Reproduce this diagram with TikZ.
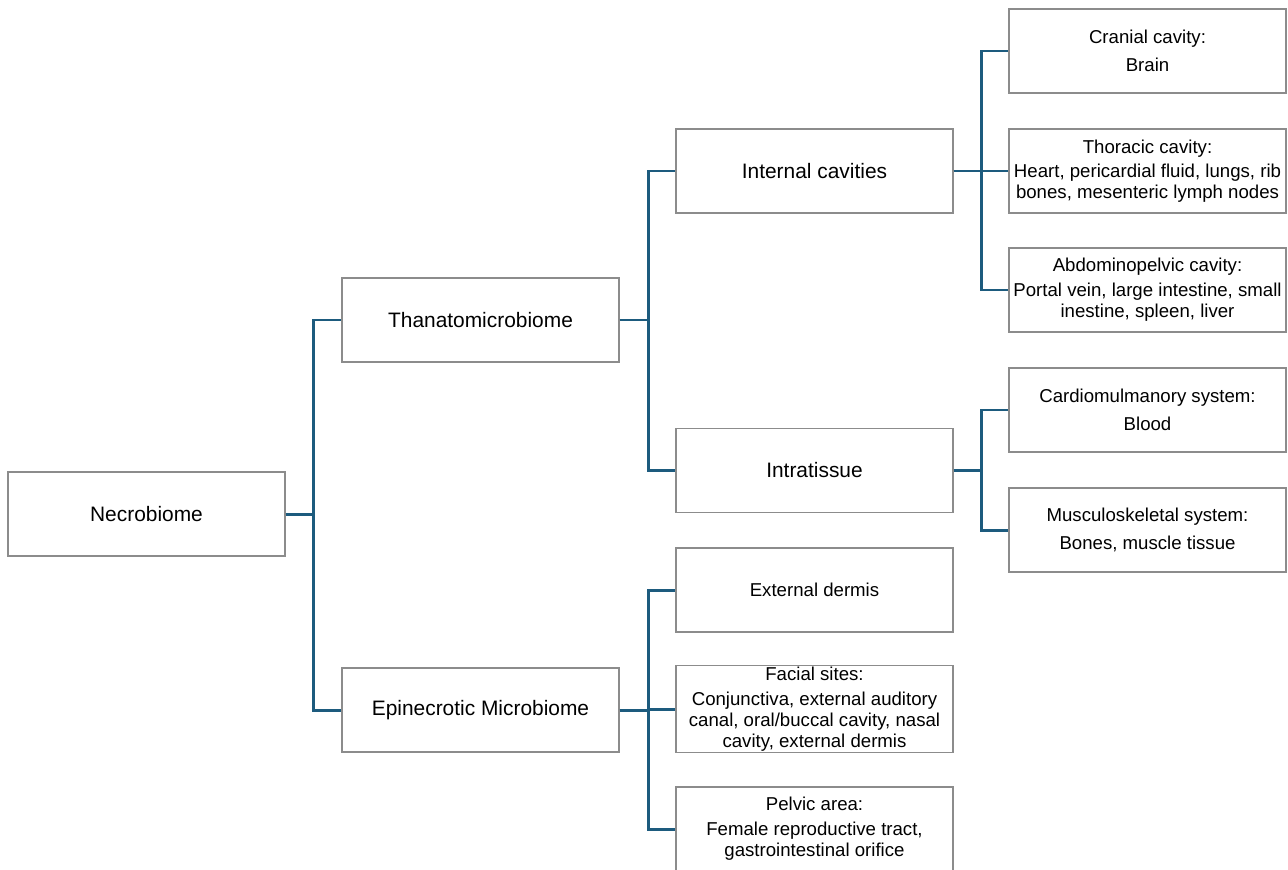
\documentclass[tikz,border=0pt]{standalone}
\usepackage{fontspec}
\setmainfont{Liberation Sans}
\usepackage{xcolor}
\usetikzlibrary{positioning}
\definecolor{flink}{HTML}{1D5B7E}
\definecolor{fframe}{HTML}{8C8C8C}

\begin{document}
\begin{tikzpicture}[x=1cm, y=1cm,
  catbox/.style={draw=fframe, line width=0.7pt, fill=white,
    minimum width=5.54cm, minimum height=1.68cm, inner sep=1pt,
    align=center, font=\fontsize{11.9}{14}\selectfont},
  sitebox/.style={catbox, font=\fontsize{10.6}{12}\selectfont},
  link/.style={draw=flink, line width=1.7pt}]
\useasboundingbox (0,0) rectangle (25.76,-17.38);
\clip (0,0) rectangle (25.76,-17.38);
% =================== level 0 and 1 ===================
\node[catbox] (necro)   at (2.93,-10.28) {Necrobiome};
\node[catbox] (thanato) at (9.61,-6.40)  {Thanatomicrobiome};
\node[catbox] (epi)     at (9.61,-14.20) {Epinecrotic Microbiome};
% =================== level 2 ===================
\node[catbox]  (internal) at (16.29,-3.42)  {Internal cavities};
\node[catbox]  (intra)    at (16.29,-9.41)  {Intratissue};
\node[sitebox] (extderm)  at (16.29,-11.80) {External dermis};
\node[sitebox] (facial)   at (16.29,-14.18)
   {Facial sites:\\[2pt]Conjunctiva, external auditory\\canal, oral/buccal cavity, nasal\\cavity, external dermis};
\node[sitebox] (pelvic)   at (16.29,-16.58)
   {Pelvic area:\\[2pt]Female reproductive tract,\\gastrointestinal orifice};
% =================== level 3 ===================
\node[sitebox] (cranial)  at (22.95,-1.02)
   {Cranial cavity:\\[4pt]Brain};
\node[sitebox] (thoracic) at (22.95,-3.42)
   {Thoracic cavity:\\[1.5pt]Heart, pericardial fluid, lungs, rib\\bones, mesenteric lymph nodes};
\node[sitebox] (abdomino) at (22.95,-5.80)
   {Abdominopelvic cavity:\\[2pt]Portal vein, large intestine, small\\inestine, spleen, liver};
\node[sitebox] (cardio)   at (22.95,-8.20)
   {Cardiomulmanory system:\\[4pt]Blood};
\node[sitebox] (musculo)  at (22.95,-10.60)
   {Musculoskeletal system:\\[4pt]Bones, muscle tissue};
% =================== connectors ===================
\foreach \kid in {thanato, epi}
  \draw[link] (necro.east) -- ++(0.56,0) |- (\kid.west);
\foreach \kid in {internal, intra}
  \draw[link] (thanato.east) -- ++(0.58,0) |- (\kid.west);
\foreach \kid in {extderm, facial, pelvic}
  \draw[link] (epi.east) -- ++(0.58,0) |- (\kid.west);
\foreach \kid in {cranial, thoracic, abdomino}
  \draw[link] (internal.east) -- ++(0.56,0) |- (\kid.west);
\foreach \kid in {cardio, musculo}
  \draw[link] (intra.east) -- ++(0.56,0) |- (\kid.west);
\end{tikzpicture}
\end{document}
